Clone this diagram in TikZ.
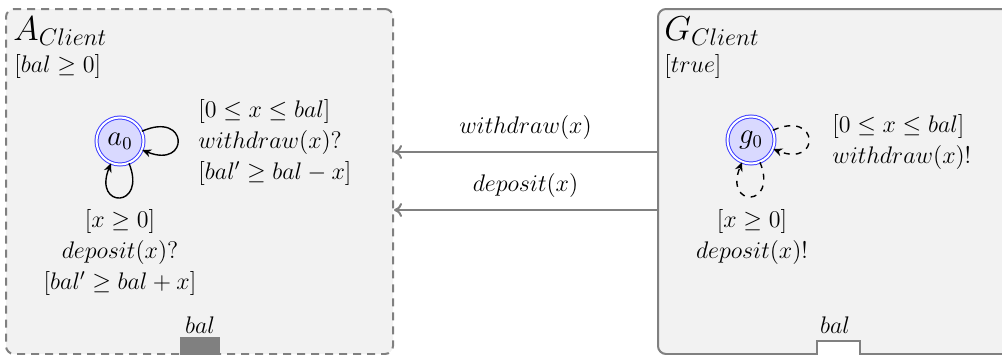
\documentclass[tikz,border=0pt]{standalone}
\usetikzlibrary{arrows.meta}
\begin{document}
\begin{tikzpicture}[x=0.5pt,y=-0.5pt,
  boxbase/.style={rectangle, rounded corners=4pt, fill=gray!10, draw=gray, line width=1pt, anchor=north west, minimum height=172.5pt, inner sep=0pt},
  abox/.style={boxbase, dash pattern=on 4pt off 3pt},
  gbox/.style={boxbase},
  state/.style={circle, draw=blue!75, line width=0.5pt, double=white, double distance=1pt, fill=blue!15, minimum size=23.5pt, inner sep=0pt, font=\fontsize{13.5}{15}\selectfont},
  lbl/.style={font=\fontsize{12}{15.5}\selectfont, inner sep=0pt},
  ttl/.style={font=\fontsize{17}{20}\selectfont, inner sep=0pt, anchor=base west},
  inv/.style={font=\fontsize{11.5}{13}\selectfont, inner sep=0pt, anchor=base west},
  selfloop/.style={draw=black, line width=0.7pt, -{Stealth[length=4.5pt,width=4pt]}, loop, min distance=12pt, looseness=7},
  dloop/.style={selfloop, dashed},
  conn/.style={draw=gray, line width=1pt, -{To[length=4pt,width=7pt]}},
  port/.style={rectangle, draw=gray, line width=1pt, inner sep=0pt, anchor=north}
]
\useasboundingbox (0,0) rectangle (1002,354);
% boxes
\node[abox, minimum width=193.5pt] (A) at (5,8) {};
\node[gbox, minimum width=190pt] (G) at (657,8) {};
% titles
\node[ttl] (At) at (13,40) {$A_{Client}$};
\node[inv] (Ai) at (14,72) {$[bal \geq 0]$};
\node[ttl] (Gt) at (664,40) {$G_{Client}$};
\node[inv] (Gi) at (664,72) {$[true]$};
% states
\node[state] (a0) at (120,141) {$a_0$};
\node[state] (g0) at (751,140) {$g_0$};
% loops
\path (a0) edge[selfloop, out=24, in=-22] (a0);
\path (a0) edge[selfloop, out=-68, in=-112] (a0);
\path (g0) edge[dloop, out=24, in=-22] (g0);
\path (g0) edge[dloop, out=-68, in=-112] (g0);
% loop labels
\node[lbl, anchor=west, align=left] (aw) at (198,142) {$[0 \leq x \leq bal]$\\ $withdraw(x)?$\\ $[bal' \geq bal - x]$};
\node[lbl, anchor=north, align=center] (ad) at (120,209) {$[x \geq 0]$\\ $deposit(x)?$\\ $[bal' \geq bal + x]$};
\node[lbl, anchor=west, align=left] (gw) at (832,142) {$[0 \leq x \leq bal]$\\ $withdraw(x)!$};
\node[lbl, anchor=north, align=center] (gd) at (752,209) {$[x \geq 0]$\\ $deposit(x)!$};
% connectors
\coordinate (yw) at (0,152);
\coordinate (yd) at (0,210);
\draw[conn] (G.west |- yw) -- node[lbl, above=6pt] (lw) {$withdraw(x)$} (A.east |- yw);
\draw[conn] (G.west |- yd) -- node[lbl, above=6pt] (ld) {$deposit(x)$} (A.east |- yd);
% ports
\node[port, fill=gray, minimum width=19pt, minimum height=10pt] (ap) at (200,337) {};
\node[lbl, anchor=base] (apl) at (200,333) {$bal$};
\node[port, fill=white, minimum width=21.5pt, minimum height=10pt] (gp) at (838.5,340) {};
\node[lbl, anchor=base] (gpl) at (835,333) {$bal$};
\end{tikzpicture}
\end{document}
